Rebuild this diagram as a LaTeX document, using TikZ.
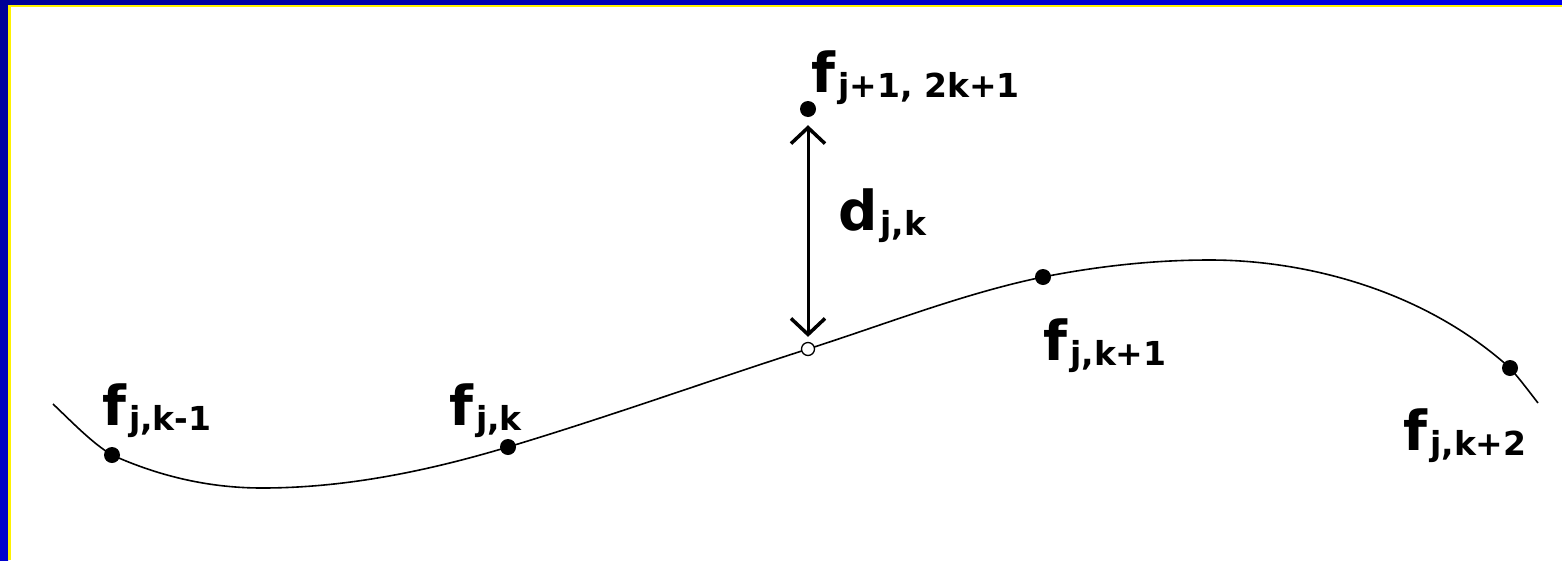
\documentclass[tikz,border=0pt]{standalone}
\usepackage{fontspec}
\setmainfont{DejaVu Sans}
\usetikzlibrary{arrows.meta}
\newcommand{\sublab}[2]{#1\hspace{3pt}\raisebox{-5pt}{\fontsize{33}{33}\selectfont #2}}
\begin{document}
\begin{tikzpicture}[x=1pt,y=-1pt,
  dot/.style={circle,fill=black,inner sep=0pt,minimum size=16pt},
  hollow/.style={circle,draw=black,fill=white,line width=1.3pt,inner sep=0pt,minimum size=13pt},
  lab/.style={inner sep=0pt,anchor=base west,font=\fontsize{55}{55}\selectfont\bfseries},
  curve/.style={line width=1.6pt,black},
  dim/.style={line width=3pt,{Straight Barb[length=16pt,width=34pt,line width=3.5pt]}-{Straight Barb[length=16pt,width=34pt,line width=3.5pt]}}]
\useasboundingbox (0,0) rectangle (1562,560);
\fill[white] (0,0) rectangle (1562,560);
% frame
\shade[left color={rgb,255:red,0;green,0;blue,150}, right color={rgb,255:red,0;green,0;blue,235}] (0,0) rectangle (1562,4.5);
\shade[top color={rgb,255:red,0;green,0;blue,150}, bottom color={rgb,255:red,0;green,0;blue,205}] (0,0) rectangle (8,560);
\fill[yellow] (8,4.5) rectangle (1562,6.5);
\fill[yellow] (8,4.5) rectangle (10.5,560);
% curve
\coordinate (c0) at (53,404);
\coordinate (p1) at (112,455);
\coordinate (cmin) at (262,488);
\coordinate (p2) at (508,447);
\coordinate (p3) at (808,349);
\coordinate (p4) at (1043,277);
\coordinate (cmax) at (1210,260);
\coordinate (p5) at (1510,368);
\coordinate (c9) at (1538,403);
\draw[curve] (c0) .. controls (72.7,422.7) and (92.3,443.2) .. (p1)
  .. controls (162,477.5) and (212,488) .. (cmin)
  .. controls (344,488) and (426,471.6) .. (p2)
  .. controls (608,417) and (708,381) .. (p3)
  .. controls (886,324) and (965,293) .. (p4)
  .. controls (1099,266) and (1154,260) .. (cmax)
  .. controls (1300,260) and (1420,287) .. (p5)
  .. controls (1519.3,378.5) and (1528.7,391) .. (c9);
% points
\node[dot] (fkm1) at (p1) {};
\node[dot] (fk) at (p2) {};
\node[dot] (fkp1) at (p4) {};
\node[dot] (fkp2) at (p5) {};
\node[dot] (ftop) at (808,109) {};
\node[hollow] (mid) at (p3) {};
% dimension arrow
\draw[dim] ([yshift=-8pt]ftop.south) -- ([yshift=5pt]mid.north);
% labels
\node[lab] (lkm1) at (102,425) {\sublab{f}{j,k-1}};
\node[lab] (lk) at (449,425) {\sublab{f}{j,k}};
\node[lab] (ltop) at (811,92) {\sublab{f}{j+1, 2k+1}};
\node[lab] (ld) at (838,230) {\sublab{d}{j,k}};
\node[lab] (lkp1) at (1043,360) {\sublab{f}{j,k+1}};
\node[lab] (lkp2) at (1403,450) {\sublab{f}{j,k+2}};
\end{tikzpicture}
\end{document}
